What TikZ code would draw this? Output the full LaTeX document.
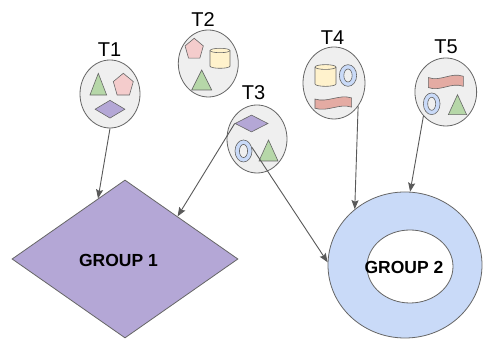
\documentclass[tikz,border=0pt]{standalone}
\usepackage{fontspec}
\setmainfont{Liberation Sans}
\usetikzlibrary{arrows.meta,shapes.geometric}

\definecolor{bubblefill}{HTML}{EFEFEF}
\definecolor{edgegray}{HTML}{666666}
\definecolor{wiregray}{HTML}{595959}
\definecolor{leaf}{HTML}{B6D7A8}
\definecolor{rose}{HTML}{F4CCCC}
\definecolor{cream}{HTML}{FFF2CC}
\definecolor{lilac}{HTML}{B4A7D6}
\definecolor{sky}{HTML}{C9DAF8}
\definecolor{salmon}{HTML}{E4ABA3}

\tikzset{
  bubble/.style={ellipse, draw=edgegray, fill=bubblefill, line width=0.8pt, inner sep=0pt},
  tlabel/.style={font=\fontsize{20}{22}\selectfont, inner sep=0pt},
  grouptext/.style={font=\fontsize{17.5}{19}\selectfont\bfseries, inner sep=0pt},
  icon/.style={draw=edgegray, line width=0.6pt},
  gem/.style={diamond, draw=edgegray, fill=lilac, line width=0.6pt, inner sep=0pt},
  link/.style={draw=wiregray, line width=0.9pt, -{Stealth[length=9pt,width=7pt,inset=1.5pt]}},
  % unit-sized icons, stretched with xscale/yscale where placed
  tri/.pic={\path[icon,fill=leaf] (-0.5,-0.5) -- (0.5,-0.5) -- (0,0.5) -- cycle;},
  penta/.pic={\path[icon,fill=rose] (90:1) -- (162:1) -- (234:1) -- (306:1) -- (18:1) -- cycle;},
  ringicon/.pic={\path[icon,fill=sky,even odd rule]
      (0,0) ellipse [x radius=0.5, y radius=0.5]
      (0,0) ellipse [x radius=0.24, y radius=0.3];},
  cyl/.pic={
    \path[icon,fill=cream] (-0.5,0.39) -- (-0.5,-0.39)
      arc[start angle=180, end angle=360, x radius=0.5, y radius=0.11]
      -- (0.5,0.39)
      arc[start angle=0, end angle=180, x radius=0.5, y radius=0.11] -- cycle;
    \path[icon] (-0.5,0.39) arc[start angle=180, end angle=360, x radius=0.5, y radius=0.11];},
  wave/.pic={\path[icon,fill=salmon]
      (-0.5,0.3) .. controls (-0.15,-0.05) and (0.15,0.75) .. (0.5,0.4)
      -- (0.5,-0.4) .. controls (0.15,-0.05) and (-0.15,-0.85) .. (-0.5,-0.5) -- cycle;},
}

\begin{document}
\begin{tikzpicture}[x=1pt,y=1pt]
  \useasboundingbox (0,0) rectangle (483,339);
  \fill[white] (0,0) rectangle (483,339);

  % the two groups
  \node[gem, line width=0.8pt, minimum width=226pt, minimum height=158pt] (g1) at (125,80) {};
  \node[grouptext] (g1t) at (118.5,79) {GROUP 1};

  \node[ellipse, draw=edgegray, fill=sky, line width=0.8pt, inner sep=0pt,
        minimum width=154pt, minimum height=146pt] (g2) at (405,74) {};
  \node[ellipse, draw=edgegray, fill=white, line width=0.8pt, inner sep=0pt,
        minimum width=86pt, minimum height=73pt] (g2h) at (410,72.5) {};
  \node[grouptext] (g2t) at (404,72) {GROUP 2};

  % T1
  \node[tlabel] (t1l) at (109.5,289) {T1};
  \node[bubble, minimum width=60pt, minimum height=68pt] (t1) at (110,245) {};
  \pic[xscale=16.7, yscale=21.7] at (98.3,254.8) {tri};
  \pic[xscale=10.5, yscale=12] at (123.3,253.7) {penta};
  \node[gem, minimum width=30pt, minimum height=18pt] (t1d) at (110,229.8) {};

  % T2
  \node[tlabel] (t2l) at (203,319.5) {T2};
  \node[bubble, minimum width=60pt, minimum height=67pt] (t2) at (208.3,275.5) {};
  \pic[xscale=9.6, yscale=11] at (194.2,289.7) {penta};
  \pic[xscale=20, yscale=20] at (220,280.7) {cyl};
  \pic[xscale=20, yscale=20] at (201.7,259) {tri};

  % T3
  \node[tlabel] (t3l) at (253.5,246) {T3};
  \node[bubble, minimum width=60pt, minimum height=68pt] (t3) at (257,200) {};
  \node[gem, minimum width=33pt, minimum height=17pt] (t3d) at (251.5,215.5) {};
  \pic[xscale=17, yscale=22] at (243.5,188) {ringicon};
  \coordinate (t3o) at (252,191.5);
  \pic[xscale=19, yscale=21] at (268.5,188.5) {tri};

  % T4
  \node[tlabel] (t4l) at (332.5,301) {T4};
  \node[bubble, minimum width=62pt, minimum height=72pt] (t4) at (334,256) {};
  \pic[xscale=21, yscale=21.7] at (325.5,263.5) {cyl};
  \pic[xscale=17.3, yscale=21.7] at (348,263.5) {ringicon};
  \pic[xscale=36.7, yscale=11.5] at (333.3,236.5) {wave};

  % T5
  \node[tlabel] (t5l) at (446,292) {T5};
  \node[bubble, minimum width=61.7pt, minimum height=68pt] (t5) at (445.8,247) {};
  \pic[xscale=35, yscale=12.5] at (445.8,257.7) {wave};
  \pic[xscale=16.7, yscale=21.7] at (431.7,235.2) {ringicon};
  \pic[xscale=18.3, yscale=20] at (457.5,234.3) {tri};

  % connectors
  \draw[link] (t1.south) -- (g1.114);
  \draw[link] (t3d.west) -- (g1.39);
  \draw[link] (t3o) -- (g2.178);
  \draw[link] (t4.-44) -- (g2.132);
  \draw[link] (t5.227) -- (g2.86);
\end{tikzpicture}
\end{document}
